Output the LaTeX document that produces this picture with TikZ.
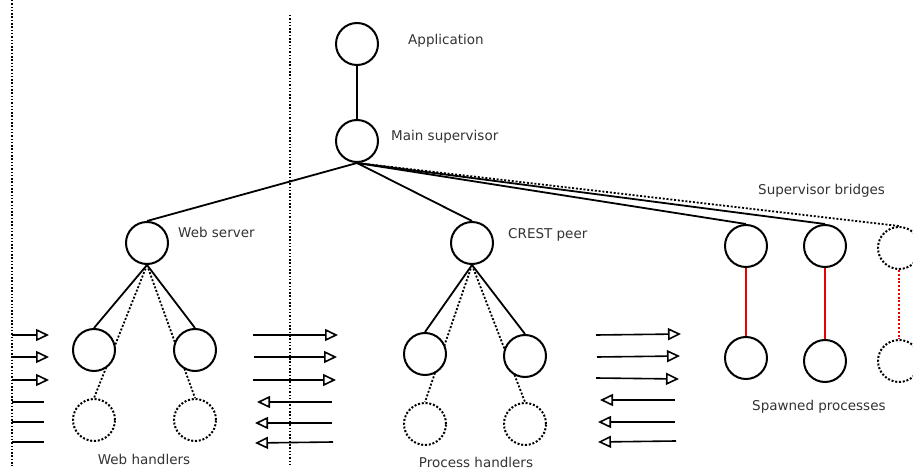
\documentclass[tikz,border=0pt]{standalone}
\usepackage{fontspec}
\setmainfont{DejaVu Sans}
\usetikzlibrary{arrows.meta}
\definecolor{txt}{gray}{0.2}
\definecolor{bridgered}{RGB}{235,0,0}
\tikzset{
  proc/.style={circle, draw, line width=2pt, fill=white, minimum size=42pt, inner sep=0pt},
  ghost/.style={proc, dash pattern=on 2pt off 1.8pt},
  link/.style={line width=1.8pt},
  dotlink/.style={line width=1.8pt, dash pattern=on 2pt off 1.8pt},
  redlink/.style={line width=1.8pt, draw=bridgered},
  reddot/.style={redlink, dash pattern=on 2pt off 1.8pt},
  divider/.style={line width=1.2pt, dash pattern=on 1.5pt off 1.8pt},
  msg/.style={line width=1.6pt, -{Triangle[open, length=13pt, width=12pt, line width=1.6pt]}},
  plain/.style={line width=1.6pt},
  lbl/.style={text=txt, font=\fontsize{13.5}{15}\selectfont, inner sep=0pt},
}
\begin{document}
\begin{tikzpicture}[x=1pt, y=-1pt]
\useasboundingbox (0,0) rectangle (913,470);
\clip (0,0) rectangle (913,470);

% dividers between the three zones
\draw[divider] (12,0) -- (12,466);
\draw[divider] (290,15) -- (290,466);

% top of the hierarchy
\node[proc] (app) at (357,44) {};
\node[proc] (main) at (357,141) {};
\coordinate (hub) at (main.south);

% second level
\node[proc] (web) at (147,243) {};
\node[proc] (crest) at (472,243) {};
\node[proc] (br1) at (746,246) {};
\node[proc] (br2) at (825,246) {};
\node[ghost] (br3) at (899,248) {};

% spawned processes
\node[proc] (sp1) at (746,358) {};
\node[proc] (sp2) at (825,361) {};
\node[ghost] (sp3) at (899,361) {};

% dotted links to the handlers run behind the worker circles
\coordinate (webb) at (147,265);
\coordinate (crestb) at (472,265);
\node[ghost] (wh1) at (94,420) {};
\node[ghost] (wh2) at (195,420) {};
\node[ghost] (ph1) at (425,424) {};
\node[ghost] (ph2) at (525,424) {};
\draw[dotlink] (webb) -- (wh1.north);
\draw[dotlink] (webb) -- (wh2.north);
\draw[dotlink] (crestb) -- (ph1.north);
\draw[dotlink] (crestb) -- (ph2.north);

% workers
\node[proc] (w1) at (94,350) {};
\node[proc] (w2) at (195,350) {};
\node[proc] (p1) at (425,354) {};
\node[proc] (p2) at (525,356) {};

% tree links
\draw[link] (app) -- (main);
\draw[link] (hub) -- (web.north);
\draw[link] (hub) -- (crest.north);
\draw[link] (hub) -- (br1.north);
\draw[link] (hub) -- (br2.north);
\draw[dotlink] (hub) -- (br3.north);
\draw[link] (webb) -- (w1.north);
\draw[link] (webb) -- (w2.north);
\draw[link] (crestb) -- (p1.north);
\draw[link] (crestb) -- (p2.north);

% bridge links
\draw[redlink] (br1) -- (sp1);
\draw[redlink] (br2) -- (sp2);
\draw[reddot] (br3) -- (sp3);

% message arrows, left zone
\coordinate (la1) at (12,335); \coordinate (lb1) at (49,335);
\coordinate (la2) at (12,357); \coordinate (lb2) at (49,357);
\coordinate (la3) at (12,380); \coordinate (lb3) at (49,380);
\coordinate (la4) at (12,402); \coordinate (lb4) at (44,402);
\coordinate (la5) at (12,422); \coordinate (lb5) at (44,422);
\coordinate (la6) at (12,442); \coordinate (lb6) at (44,442);
\draw[msg] (la1) -- (lb1);
\draw[msg] (la2) -- (lb2);
\draw[msg] (la3) -- (lb3);
\draw[plain] (la4) -- (lb4);
\draw[plain] (la5) -- (lb5);
\draw[plain] (la6) -- (lb6);

% message arrows, middle zone
\coordinate (ma1) at (253,335); \coordinate (mb1) at (338,335);
\coordinate (ma2) at (254,357); \coordinate (mb2) at (337,357);
\coordinate (ma3) at (253,380); \coordinate (mb3) at (336,380);
\coordinate (ma4) at (332,402); \coordinate (mb4) at (257,402);
\coordinate (ma5) at (332,423); \coordinate (mb5) at (255,423);
\coordinate (ma6) at (333,442); \coordinate (mb6) at (255,443);
\draw[msg] (ma1) -- (mb1);
\draw[msg] (ma2) -- (mb2);
\draw[msg] (ma3) -- (mb3);
\draw[msg] (ma4) -- (mb4);
\draw[msg] (ma5) -- (mb5);
\draw[msg] (ma6) -- (mb6);

% message arrows, right zone
\coordinate (ra1) at (596,335); \coordinate (rb1) at (681,334);
\coordinate (ra2) at (597,357); \coordinate (rb2) at (680,356);
\coordinate (ra3) at (596,378); \coordinate (rb3) at (679,379);
\coordinate (ra4) at (675,400); \coordinate (rb4) at (600,400);
\coordinate (ra5) at (675,422); \coordinate (rb5) at (598,422);
\coordinate (ra6) at (676,441); \coordinate (rb6) at (598,442);
\draw[msg] (ra1) -- (rb1);
\draw[msg] (ra2) -- (rb2);
\draw[msg] (ra3) -- (rb3);
\draw[msg] (ra4) -- (rb4);
\draw[msg] (ra5) -- (rb5);
\draw[msg] (ra6) -- (rb6);

% labels
\node[lbl, anchor=west] (tapp) at (408,41) {Application};
\node[lbl, anchor=west] (tmain) at (391,137) {Main supervisor};
\node[lbl, anchor=west] (tweb) at (178,232) {Web server};
\node[lbl, anchor=west] (tcrest) at (508,235) {CREST peer};
\node[lbl, anchor=west] (tbr) at (758,191) {Supervisor bridges};
\node[lbl, anchor=west] (tsp) at (752,407) {Spawned processes};
\node[lbl] (twh) at (144,459) {Web handlers};
\node[lbl] (tph) at (476,462) {Process handlers};
\end{tikzpicture}
\end{document}
